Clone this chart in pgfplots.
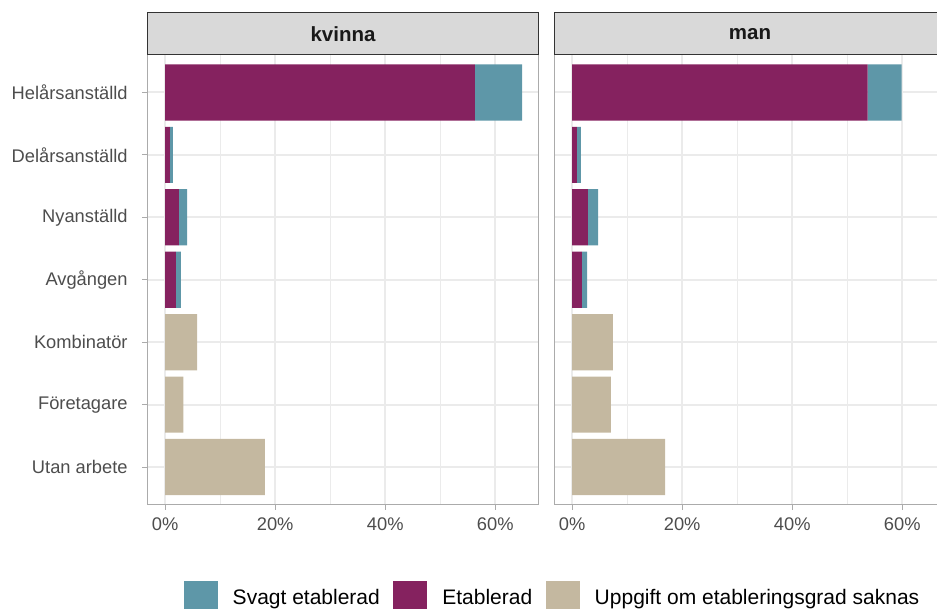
\documentclass[border=0pt]{standalone}
\usepackage{fontspec}
\setmainfont{Liberation Sans}
\usepackage{pgfplots}
\pgfplotsset{compat=1.18}

\definecolor{cTeal}{HTML}{5E97A8}
\definecolor{cPurple}{HTML}{85225F}
\definecolor{cBeige}{HTML}{C4B8A0}
\definecolor{gridc}{HTML}{EBEBEB}
\definecolor{axisc}{HTML}{ABABAB}
\definecolor{stripc}{HTML}{D9D9D9}
\definecolor{stripb}{HTML}{333333}
\definecolor{labc}{HTML}{4D4D4D}

\newcommand{\ticksize}{\fontsize{18.3pt}{20pt}\selectfont}
\newcommand{\legsize}{\fontsize{21pt}{24pt}\selectfont}
\newcommand{\stripsize}{\fontsize{20.5pt}{24pt}\selectfont\bfseries}

\pgfplotsset{
  panel/.style={
    xbar stacked, bar width=0.9,
    scale only axis, width=391.4pt, height=449.5pt,
    xmin=-3.25, xmax=67.9, ymin=-0.6, ymax=6.6,
    xtick={0,20,40,60}, minor xtick={10,30,50},
    xticklabels={0\%,20\%,40\%,60\%},
    ytick={0,1,2,3,4,5,6},
    xtick pos=lower, ytick pos=left,
    grid=both,
    major grid style={draw=gridc, line width=2pt},
    minor grid style={draw=gridc, line width=1pt},
    axis line style={draw=axisc, line width=1pt},
    tick style={draw=axisc, line width=1pt},
    tick align=outside, major tick length=5.5pt, minor tick length=0pt,
    every tick label/.append style={font=\ticksize, text=labc},
    xticklabel style={anchor=north, inner sep=0pt, yshift=-8pt},
    yticklabel style={anchor=east, inner sep=0pt, xshift=-14pt},
  },
  keybox/.style={legend image code/.code={\fill[##1, draw=none] (0pt,-17pt) rectangle (34pt,17pt);}},
}

\begin{document}
\begin{tikzpicture}
% kvinna
\begin{axis}[panel, at={(147.3pt,104.5pt)}, anchor=south west,
  yticklabels={Utan arbete, Företagare, Kombinatör, Avgången, Nyanställd, Delårsanställd, Helårsanställd},
  legend style={at={(1.0327,-0.208)}, anchor=center, draw=none, fill=none,
    font=\legsize, legend columns=3, nodes={inner sep=0pt},
    /tikz/every even column/.append style={column sep=13.5pt},
    /tikz/every odd column/.append style={column sep=15pt}},
  legend cell align=left]
\addlegendimage{keybox, fill=cTeal, draw=none}
\addlegendimage{keybox, fill=cPurple, draw=none}
\addlegendimage{keybox, fill=cBeige, draw=none}
\addplot[fill=cPurple, draw=none] coordinates {(56.3,6) (0.85,5) (2.5,4) (1.95,3) (0,2) (0,1) (0,0)};
\addplot[fill=cTeal, draw=none] coordinates {(8.6,6) (0.55,5) (1.5,4) (0.9,3) (0,2) (0,1) (0,0)};
\addplot[fill=cBeige, draw=none] coordinates {(0,6) (0,5) (0,4) (0,3) (5.8,2) (3.3,1) (18.1,0)};
\legend{Svagt etablerad, Etablerad, Uppgift om etableringsgrad saknas}
\end{axis}
% man
\begin{axis}[panel, at={(554.3pt,104.5pt)}, anchor=south west,
  yticklabels={}, ytick style={draw=none}]
\addplot[fill=cPurple, draw=none] coordinates {(53.7,6) (0.85,5) (2.85,4) (1.78,3) (0,2) (0,1) (0,0)};
\addplot[fill=cTeal, draw=none] coordinates {(6.2,6) (0.75,5) (1.85,4) (0.92,3) (0,2) (0,1) (0,0)};
\addplot[fill=cBeige, draw=none] coordinates {(0,6) (0,5) (0,4) (0,3) (7.4,2) (7.05,1) (16.9,0)};
\end{axis}
% facet strips
\draw[fill=stripc, draw=stripb, line width=1pt] (147.3pt,554pt) rectangle (538.7pt,596.3pt);
\node[font=\stripsize, text=black!90] at (343pt,575.2pt) {kvinna};
\draw[fill=stripc, draw=stripb, line width=1pt] (554.3pt,554pt) rectangle (945.7pt,596.3pt);
\node[font=\stripsize, text=black!90] at (750pt,575.2pt) {man};
\pgfresetboundingbox
\useasboundingbox (0pt,0pt) rectangle (937pt,609pt);
\end{tikzpicture}
\end{document}
